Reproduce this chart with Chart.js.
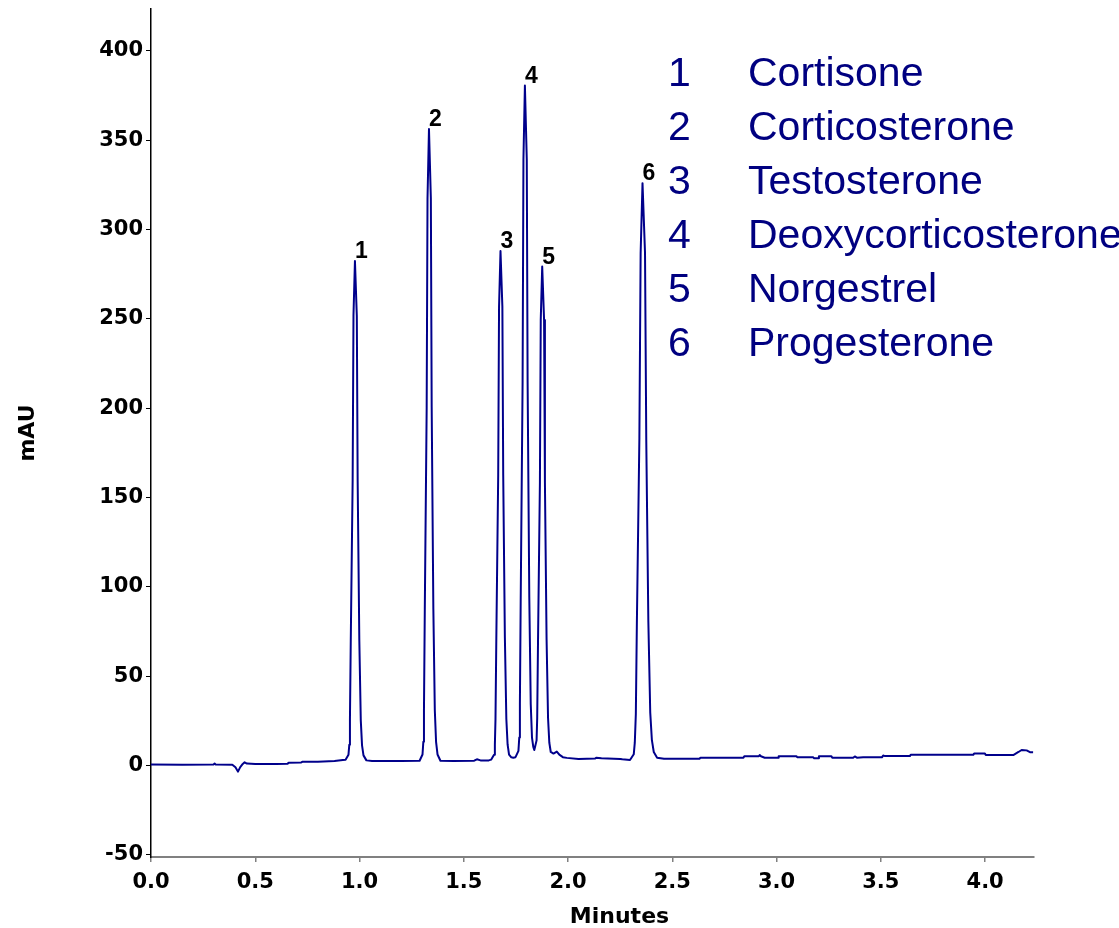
<!DOCTYPE html>
<html>
<head>
<meta charset="utf-8">
<title>Steroid separation</title>
<script src="https://cdn.jsdelivr.net/npm/chart.js@4.4.1/dist/chart.umd.min.js"></script>
<style>
  html, body { margin: 0; padding: 0; background: #ffffff; }
  canvas { display: block; }
</style>
</head>
<body>
<canvas id="chrom" width="1119" height="928"></canvas>
<script>
// Detector trace: retention time (min) and absorbance (mAU)
const minutes = [
  0.000, 0.150, 0.300, 0.305, 0.310, 0.390, 0.405, 0.417, 0.428, 0.440,
  0.449, 0.460, 0.500, 0.600, 0.655, 0.660, 0.720, 0.725, 0.800, 0.880,
  0.920, 0.933, 0.947, 0.951, 0.954, 0.958, 0.967, 0.971, 0.978, 0.987,
  0.991, 0.999, 1.006, 1.012, 1.019, 1.033, 1.060, 1.200, 1.288, 1.302,
  1.306, 1.309, 1.313, 1.322, 1.326, 1.333, 1.342, 1.346, 1.354, 1.361,
  1.367, 1.374, 1.388, 1.450, 1.550, 1.563, 1.580, 1.620, 1.631, 1.645,
  1.649, 1.652, 1.656, 1.665, 1.669, 1.676, 1.685, 1.689, 1.697, 1.704,
  1.710, 1.717, 1.728, 1.737, 1.748, 1.762, 1.766, 1.769, 1.773, 1.782,
  1.786, 1.793, 1.802, 1.806, 1.814, 1.821, 1.827, 1.833, 1.838, 1.843,
  1.849, 1.852, 1.856, 1.865, 1.869, 1.876, 1.885, 1.889, 1.897, 1.904,
  1.910, 1.917, 1.930, 1.946, 1.958, 1.975, 1.994, 2.050, 2.130, 2.135,
  2.160, 2.250, 2.260, 2.297, 2.315, 2.320, 2.325, 2.330, 2.342, 2.348,
  2.357, 2.369, 2.375, 2.385, 2.394, 2.402, 2.411, 2.427, 2.460, 2.630,
  2.635, 2.841, 2.845, 2.915, 2.919, 2.925, 2.943, 3.007, 3.010, 3.095,
  3.100, 3.175, 3.180, 3.199, 3.203, 3.263, 3.267, 3.367, 3.375, 3.385,
  3.415, 3.505, 3.511, 3.520, 3.639, 3.643, 3.943, 3.947, 3.999, 4.003,
  4.135, 4.160, 4.175, 4.199, 4.215, 4.231
];
const mAU = [
  0.5, 0.4, 0.5, 1.0, 0.5, 0.4, -1.0, -3.5, -1.0, 0.8,
  1.7, 1.0, 0.8, 0.8, 0.9, 1.5, 1.6, 2.0, 2.0, 2.4,
  3.0, 3.2, 6.0, 11.6, 25.6, 70.3, 159.7, 251.9, 282.4, 251.5,
  159.3, 69.9, 25.2, 11.2, 5.6, 2.8, 2.5, 2.5, 2.6, 6.1,
  13.2, 30.9, 87.5, 200.7, 317.4, 356.3, 317.4, 200.7, 87.5, 30.9,
  13.2, 6.1, 2.6, 2.4, 2.6, 3.4, 2.8, 2.8, 3.2, 6.0,
  11.7, 26.0, 71.5, 162.7, 256.7, 288.0, 256.7, 162.7, 71.5, 26.0,
  11.7, 6.0, 4.5, 4.3, 4.6, 8.1, 15.6, 34.4, 94.6, 215.0,
  339.2, 380.6, 339.2, 215.0, 94.6, 34.4, 15.6, 10.5, 8.6, 11.0,
  14.0, 26.5, 70.5, 158.5, 249.3, 279.3, 249.3, 158.5, 70.5, 26.5,
  12.8, 7.5, 6.6, 7.7, 6.0, 4.6, 4.2, 3.6, 3.8, 4.3,
  4.0, 3.6, 3.4, 3.0, 6.2, 12.7, 28.8, 80.3, 183.3, 286.9,
  326.0, 287.0, 182.2, 80.5, 29.7, 14.1, 7.5, 4.3, 3.7, 3.7,
  4.3, 4.3, 5.1, 5.1, 5.8, 5.1, 4.3, 4.3, 5.1, 5.1,
  4.5, 4.5, 4.0, 4.0, 5.1, 5.1, 4.3, 4.3, 5.0, 4.3,
  4.5, 4.5, 5.5, 5.2, 5.2, 5.9, 5.9, 6.6, 6.6, 5.8,
  5.8, 7.5, 8.6, 8.4, 7.4, 7.3
];

// Peak apexes and their numbers
const peakNumbers = ['1', '2', '3', '4', '5', '6'];
const peakMinutes = [0.978, 1.333, 1.676, 1.793, 1.876, 2.357];
const peakHeights = [282.4, 356.3, 288.0, 380.6, 279.3, 326.0];

// Compound key
const compoundNumbers = ['1', '2', '3', '4', '5', '6'];
const compounds = ['Cortisone', 'Corticosterone', 'Testosterone',
                   'Deoxycorticosterone', 'Norgestrel', 'Progesterone'];

// Axis ranges and tick spacing
const xRange = [0, 4.231];
const yRange = [-51.3, 423.5];
const xStep = 0.5;
const yStep = 50;

const TRACE = '#00008b';
const KEY_COLOR = '#000080';
const AXIS_FONT = { family: '"DejaVu Sans", sans-serif', weight: 'bold', size: 21 };

const annotations = {
  id: 'annotations',
  afterDraw(chart) {
    const { ctx, scales: { x, y } } = chart;
    ctx.save();

    // peak numbers just above each apex
    ctx.fillStyle = '#000';
    ctx.font = 'bold 23px "Liberation Sans", Arial, sans-serif';
    ctx.textAlign = 'left';
    ctx.textBaseline = 'alphabetic';
    peakNumbers.forEach((n, i) => {
      const px = x.getPixelForValue(peakMinutes[i]);
      const py = y.getPixelForValue(peakHeights[i]);
      ctx.fillText(n, px, py - 3);
    });

    // compound key
    ctx.fillStyle = KEY_COLOR;
    ctx.font = '41px "Liberation Sans", Arial, sans-serif';
    compounds.forEach((name, i) => {
      const base = 86 + i * 53.9;
      ctx.fillText(compoundNumbers[i], 668, base);
      ctx.fillText(name, 748, base);
    });

    // x axis title
    ctx.fillStyle = '#000';
    ctx.font = 'bold 22px "DejaVu Sans", sans-serif';
    ctx.textAlign = 'center';
    ctx.fillText('Minutes', 619.5, 923);
    ctx.restore();
  }
};

new Chart(document.getElementById('chrom'), {
  type: 'line',
  data: {
    datasets: [{
      data: minutes.map((t, i) => ({ x: t, y: mAU[i] })),
      borderColor: TRACE,
      borderWidth: 2,
      borderJoinStyle: 'round',
      pointRadius: 0,
      tension: 0,
      fill: false
    }]
  },
  options: {
    responsive: false,
    animation: false,
    devicePixelRatio: 1,
    layout: { padding: { top: 9, right: 85.7, bottom: 0, left: 0 } },
    plugins: { legend: { display: false }, tooltip: { enabled: false } },
    scales: {
      x: {
        type: 'linear',
        min: xRange[0],
        max: xRange[1],
        afterFit(scale) {
          scale.height = 71;
          scale.paddingLeft = 0;
          scale.paddingRight = 0;
        },
        ticks: {
          stepSize: xStep,
          includeBounds: false,
          autoSkip: false,
          maxRotation: 0,
          padding: 8,
          color: '#000',
          font: AXIS_FONT,
          callback: v => Number(v).toFixed(1)
        },
        grid: { drawOnChartArea: false, drawTicks: true, tickLength: 5, color: '#808080', lineWidth: 1.5 },
        border: { display: true, color: '#808080', width: 2 }
      },
      y: {
        min: yRange[0],
        max: yRange[1],
        afterFit(scale) {
          scale.width = 151;
          scale.paddingTop = 0;
          scale.paddingBottom = 0;
        },
        ticks: {
          stepSize: yStep,
          includeBounds: false,
          autoSkip: false,
          padding: 3,
          color: '#000',
          font: AXIS_FONT,
          callback: v => String(Math.round(v))
        },
        grid: { drawOnChartArea: false, drawTicks: true, tickLength: 5, color: '#000', lineWidth: 1 },
        border: { display: true, color: '#000', width: 1.5 },
        title: {
          display: true,
          text: 'mAU',
          color: '#000',
          font: { family: '"DejaVu Sans", sans-serif', weight: 'bold', size: 22 },
          padding: { top: 15, bottom: 0 }
        }
      }
    }
  },
  plugins: [annotations]
});
</script>
</body>
</html>
